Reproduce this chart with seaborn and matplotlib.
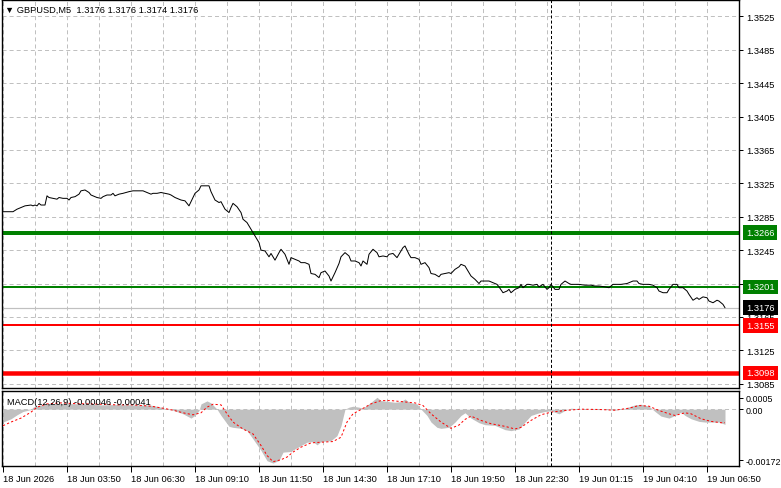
import matplotlib
matplotlib.use("Agg")
import matplotlib.pyplot as plt
import matplotlib.transforms as mtransforms
import seaborn as sns
import pandas as pd

# --- dados (GBPUSD M5, indice da barra / preco de fecho) ---
price_bar = [0, 5, 7, 9, 11, 14, 15, 16, 17, 18, 19, 21, 22, 23, 25, 27, 28, 30, 32, 33, 34, 36, 38, 39,
             41, 43, 44, 45, 47, 49, 50, 52, 54, 55, 56, 58, 60, 63, 65, 68, 70, 72, 74, 75, 77, 79, 81,
             83, 84, 86, 88, 89, 91, 93, 94, 95, 96, 98, 99, 101, 103, 104, 106, 108, 109, 111, 113, 114,
             115, 117, 119, 120,
             122, 124, 126, 128, 129, 131, 133, 134, 136, 138, 139, 141, 143, 144, 146, 148, 149, 151,
             153, 154, 156, 158, 159, 161, 163, 164, 166, 168, 169, 171, 173, 174, 176, 178, 179, 180,
             182, 183, 185, 187, 188, 190, 192, 193, 195, 197, 198, 200, 201, 203, 204, 206, 208, 209,
             211, 213, 214, 216, 218, 219, 221, 223, 224, 226, 228, 229, 231, 233, 234, 236, 238, 239, 241,
             243, 245, 247, 248, 250, 252, 253, 254, 256, 258, 259, 260, 262, 263, 265, 267, 268, 270,
             272, 273, 274, 276, 278, 279, 281, 283, 284, 286, 288, 291, 294, 296, 298, 301, 303, 305,
             307, 309, 312, 313, 315, 317, 318, 320, 322, 323, 325, 327, 328, 330, 332, 333, 335, 337,
             338, 340, 342, 343, 345, 347, 348, 350, 352, 353, 355, 357, 358, 360, 361]
price_close = [1.3291, 1.3291, 1.3294, 1.3296, 1.3298, 1.3299, 1.3298, 1.3299, 1.3298, 1.3301, 1.3299,
               1.3299, 1.3310, 1.3308, 1.3307, 1.3306, 1.3308, 1.3307, 1.3307, 1.3305, 1.3308, 1.3309,
               1.3312, 1.3316, 1.3317, 1.3314, 1.3311, 1.3310, 1.3308, 1.3307, 1.3309, 1.3311, 1.3311,
               1.3313, 1.3310, 1.3312, 1.3313, 1.3315, 1.3316, 1.3316, 1.3316, 1.3314, 1.3312, 1.3313,
               1.3313, 1.3314, 1.3313, 1.3312, 1.3311, 1.3308, 1.3306, 1.3305, 1.3304, 1.3298, 1.3303,
               1.3308, 1.3313, 1.3317, 1.3322, 1.3322, 1.3322, 1.3315, 1.3305, 1.3302, 1.3303, 1.3294,
               1.3290, 1.3296, 1.3301, 1.3297, 1.3290, 1.3282,
               1.3278, 1.3270, 1.3262, 1.3254, 1.3245, 1.3244, 1.3237, 1.3241, 1.3233, 1.3242, 1.3246,
               1.3240, 1.3228, 1.3236, 1.3234, 1.3232, 1.3230, 1.3230, 1.3228, 1.3217, 1.3216, 1.3212,
               1.3218, 1.3220, 1.3214, 1.3208, 1.3218, 1.3229, 1.3237, 1.3242, 1.3238, 1.3232, 1.3232,
               1.3230, 1.3226, 1.3232, 1.3228, 1.3240, 1.3246, 1.3242, 1.3237, 1.3238, 1.3237, 1.3240,
               1.3241, 1.3236, 1.3240, 1.3248, 1.3250, 1.3240, 1.3236, 1.3236, 1.3234, 1.3228, 1.3230,
               1.3224, 1.3217, 1.3216, 1.3213, 1.3216, 1.3217, 1.3218, 1.3217, 1.3222, 1.3225, 1.3228,
               1.3226, 1.3218, 1.3214, 1.3210, 1.3205, 1.3208, 1.3208,
               1.3208, 1.3206, 1.3204, 1.3201, 1.3194, 1.3196, 1.3198, 1.3194, 1.3198, 1.3200, 1.3204,
               1.3200, 1.3204, 1.3204, 1.3203, 1.3204, 1.3201, 1.3204, 1.3198, 1.3200, 1.3204, 1.3198,
               1.3198, 1.3204, 1.3208, 1.3205, 1.3204, 1.3204, 1.3204, 1.3203, 1.3203, 1.3202, 1.3202,
               1.3201, 1.3200, 1.3204, 1.3204, 1.3204, 1.3205, 1.3206, 1.3208, 1.3208, 1.3205, 1.3204,
               1.3204, 1.3204, 1.3203, 1.3200, 1.3196, 1.3194, 1.3194, 1.3198, 1.3204, 1.3204, 1.3200,
               1.3200, 1.3196, 1.3192, 1.3185, 1.3188, 1.3186, 1.3189, 1.3188, 1.3184, 1.3182, 1.3185,
               1.3184, 1.3180, 1.3176]

# MACD(12,26,9): histograma (linha principal) e sinal
macd_bar = [0, 4, 7, 10, 14, 15, 19, 24, 32, 40, 49, 57, 65, 74, 79, 82, 85, 90, 94, 96, 98, 99, 102,
            104, 107, 109, 113, 115, 119, 122, 125, 129, 132, 135, 138, 140, 144, 146, 149, 152, 155,
            157, 159, 164, 167, 169, 171, 173, 175, 178, 180, 184, 187, 189, 193, 196, 199, 201, 203,
            207, 209, 212, 214, 217, 219, 223, 226, 229, 231, 234, 238, 241, 246, 251, 254, 258, 261,
            264, 268, 271, 274, 278, 281, 284, 288, 294, 301, 306, 311, 316, 319, 323, 326, 329, 333,
            336, 339, 341, 344, 348, 351, 354, 358, 361]
macd_main = [-0.00039, -0.00029, -0.00017, -0.00007, -0.00001, 0.00006, 0.00013, 0.00017, 0.00017,
             0.00016, 0.00013, 0.00014, 0.00013, 0.00012, 0.00006, 0.0, -0.00003, -0.00014, -0.00027,
             -0.00019, -0.00004, 0.00016, 0.00025, 0.00019, 0.0, -0.00019, -0.00052, -0.00055, -0.00058,
             -0.00065, -0.00090, -0.00125, -0.00156, -0.00163, -0.00155, -0.00130, -0.00128, -0.00120,
             -0.00110, -0.00100, -0.00098, -0.00108, -0.00098, -0.00095, -0.00080, -0.00050, 0.0,
             0.00006, 0.00009, 0.00006, 0.00003, 0.00021, 0.00036, 0.00026, 0.00023, 0.00021, 0.00023,
             0.00031, 0.00021, 0.00016, 0.0, -0.00019, -0.00039, -0.00055, -0.00058, -0.00055, -0.00039,
             -0.00019, -0.00011, -0.00027, -0.00041, -0.00047, -0.00049, -0.00062, -0.00065, -0.00060,
             -0.00039, -0.00019, -0.00011, -0.00007, -0.00005, -0.00014, -0.00004, 0.00003, 0.00001,
             -0.00001, -0.00001, -0.00003, 0.00003, 0.00013, 0.00015, 0.00009, -0.00007, -0.00021,
             -0.00027, -0.00019, -0.00009, -0.00019, -0.00029, -0.00037, -0.00039, -0.00039, -0.00039,
             -0.00046]
signal_bar = [0, 4, 9, 14, 17, 22, 29, 35, 49, 57, 65, 74, 80, 85, 90, 95, 99, 102, 105, 109, 112, 115,
              120, 125, 129, 132, 135, 139, 142, 145, 149, 154, 159, 165, 169, 172, 175, 179, 184, 189,
              194, 199, 206, 210, 214, 219, 224, 228, 231, 234, 239, 244, 251, 256, 259, 264, 269, 274,
              281, 289, 298, 306, 313, 318, 323, 328, 333, 336, 341, 344, 349, 354, 359, 361]
signal_val = [-0.00050, -0.00039, -0.00027, -0.00009, 0.00006, 0.00016, 0.00019, 0.00017, 0.00015,
              0.00013, 0.00013, 0.00009, 0.00003, -0.00003, -0.00011, -0.00017, -0.00011, 0.00006,
              0.00015, 0.00013, -0.00014, -0.00039, -0.00060, -0.00075, -0.00110, -0.00140, -0.00159,
              -0.00153, -0.00145, -0.00130, -0.00115, -0.00102, -0.00100, -0.00098, -0.00085, -0.00039,
              -0.00014, -0.00001, 0.00016, 0.00026, 0.00026, 0.00023, 0.00019, 0.00011, -0.00014,
              -0.00039, -0.00058, -0.00048, -0.00031, -0.00021, -0.00034, -0.00044, -0.00052, -0.00060,
              -0.00055, -0.00034, -0.00017, -0.00009, -0.00004, 0.0, -0.00001, -0.00003, 0.00003,
              0.00011, 0.00009, -0.00004, -0.00014, -0.00019, -0.00011, -0.00014, -0.00029, -0.00037,
              -0.00041, -0.00041]

price_ticks = [1.3525, 1.3485, 1.3445, 1.3405, 1.3365, 1.3325, 1.3285, 1.3245, 1.3205, 1.3165,
               1.3125, 1.3085]
time_tick_bars = [0, 32, 64, 96, 128, 160, 192, 224, 256, 288, 320, 352]
time_labels = ["18 Jun 2026", "18 Jun 03:50", "18 Jun 06:30", "18 Jun 09:10", "18 Jun 11:50",
               "18 Jun 14:30", "18 Jun 17:10", "18 Jun 19:50", "18 Jun 22:30", "19 Jun 01:15",
               "19 Jun 04:10", "19 Jun 06:50"]
macd_tick_labels = ["0.0005", "0.00", "-0.00172"]

level_prices = [1.3266, 1.3201, 1.3155, 1.3098]
bid_price = 1.3176
cursor_bar = 274
title = "\u25BC GBPUSD,M5  1.3176 1.3176 1.3174 1.3176"
macd_title = "MACD(12,26,9) -0.00046 -0.00041"

# --- estilo ---
sns.set_theme(style="white")
plt.rcParams["font.family"] = ["Liberation Sans", "DejaVu Sans"]
plt.rcParams["lines.scale_dashes"] = False
FS = 6.7
PX = 0.72  # 1 pixel em pontos
GRID = "#C0C0C0"
dash_grid = (0, (2.9, 2.2))

W, H = 781, 489
fig = plt.figure(figsize=(W / 100, H / 100), dpi=100)
ax = fig.add_axes([2 / W, 1 - 389 / H, 737 / W, 388 / H])
ax2 = fig.add_axes([2 / W, 1 - 467 / H, 737 / W, 75 / H])

df_price = pd.DataFrame({"bar": price_bar, "close": price_close})
df_macd = pd.DataFrame({"bar": macd_bar, "macd": macd_main})
df_sig = pd.DataFrame({"bar": signal_bar, "signal": signal_val})

# painel de preco
ax.set_xlim(-0.5, 368)
ax.set_ylim(1.30799, 1.35445)
for b in range(0, 369, 16):
    ax.axvline(b, color=GRID, lw=PX, ls=dash_grid, zorder=0)
    ax2.axvline(b, color=GRID, lw=PX, ls=dash_grid, zorder=0)
for p in price_ticks:
    ax.axhline(p, color=GRID, lw=PX, ls=dash_grid, zorder=0)

ax.axhline(bid_price, color="#C0C0C0", lw=1.2 * PX, zorder=1)
level_colors = ["#008000", "#008000", "#FF0000", "#FF0000"]
level_widths = [4, 2, 2, 4.5]
for p, c, w in zip(level_prices, level_colors, level_widths):
    ax.axhline(p, color=c, lw=w * PX, zorder=2)

sns.lineplot(data=df_price, x="bar", y="close", ax=ax, color="black", lw=PX, zorder=3)
ax.axvline(cursor_bar, color="black", lw=PX, ls=(0, (2.2, 1.5)), zorder=4)
ax2.axvline(cursor_bar, color="black", lw=PX, ls=(0, (2.2, 1.5)), zorder=4)

ax.yaxis.tick_right()
ax.set_yticks(price_ticks)
# 1.3205 fica escondido atras da caixa do nivel 1.3201
ax.set_yticklabels([f"{p:.4f}" if p != 1.3205 else "" for p in price_ticks])
ax.tick_params(axis="y", right=True, length=3, width=PX, pad=2, labelsize=FS, colors="black")
ax.tick_params(axis="x", bottom=False, labelbottom=False)
ax.set_xlabel("")
ax.set_ylabel("")

# caixas de preco no eixo direito
trans = mtransforms.blended_transform_factory(ax.transAxes, ax.transData)
box_prices = [1.3266, 1.3201, bid_price, 1.3155, 1.3098]
box_colors = ["#008000", "#008000", "black", "#FF0000", "#FF0000"]
for p, c in zip(box_prices, box_colors):
    ax.text(1.0098, p, f"{p:.4f}", transform=trans, ha="left", va="center", color="white",
            fontsize=FS, clip_on=False, zorder=10,
            bbox=dict(boxstyle="square,pad=0.3", fc=c, ec="none"))

ax.text(0.004, 0.988, title, transform=ax.transAxes, ha="left", va="top", fontsize=FS,
        color="black")

# painel MACD
ax2.set_xlim(-0.5, 368)
ax2.set_ylim(-0.00172, 0.00055)
ax2.axhline(0, color=GRID, lw=PX, ls=dash_grid, zorder=0)
ax2.fill_between(df_macd["bar"], 0, df_macd["macd"], color="#C0C0C0", lw=0, zorder=1)
sns.lineplot(data=df_sig, x="bar", y="signal", ax=ax2, color="red", lw=PX,
             ls=(0, (1.6, 1.6)), zorder=3)
ax2.text(0.0068, 0.92, macd_title, transform=ax2.transAxes, ha="left", va="top",
         fontsize=FS, color="black", zorder=5)

ax2.yaxis.tick_right()
ax2.set_yticks([0.00034, 0.0, -0.00154])
ax2.set_yticklabels(macd_tick_labels)
ax2.tick_params(axis="y", right=True, length=3, width=PX, pad=1.5, labelsize=6.4, colors="black")
ax2.set_xticks(time_tick_bars)
ax2.set_xticklabels(time_labels)
for lbl in ax2.get_xticklabels():
    lbl.set_ha("left")
ax2.tick_params(axis="x", bottom=True, length=4, width=PX, pad=2, labelsize=FS, colors="black")
ax2.set_xlabel("")
ax2.set_ylabel("")

for a in (ax, ax2):
    for s in a.spines.values():
        s.set_color("black")
        s.set_linewidth(1.0)
        s.set_visible(True)
    a.set_facecolor("white")

fig.savefig("out.png", dpi=100)
